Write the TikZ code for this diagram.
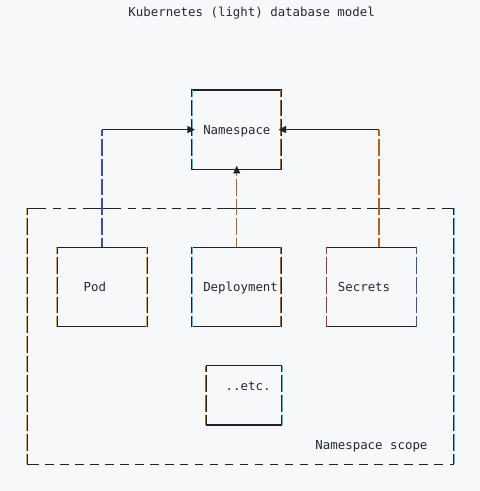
\documentclass[tikz,border=0pt]{standalone}
\usepackage{fontspec}
\setmonofont{DejaVu Sans Mono}
\usetikzlibrary{arrows.meta}
\definecolor{bg}{HTML}{F7F8FA}
\definecolor{ink}{HTML}{1F2328}
\definecolor{txt}{HTML}{24292F}
\definecolor{lb}{HTML}{5AB0EE}
\definecolor{org}{HTML}{E2A444}
\definecolor{brn}{HTML}{B0651F}
\definecolor{rdb}{HTML}{9A3428}
\definecolor{blu}{HTML}{3A4FA8}
\newcommand\kbframe[5]{%
  \draw[hl] (#1.north west) -- (#1.north east);
  \draw[hl] (#1.south west) -- (#1.south east);
  \draw[vd, #2, transform canvas={xshift=#3}] (#1.north west) -- (#1.south west);
  \draw[vd, ink] (#1.north west) -- (#1.south west);
  \draw[vd, #4, transform canvas={xshift=#5}] (#1.north east) -- (#1.south east);
  \draw[vd, ink] (#1.north east) -- (#1.south east);
}
\begin{document}
\begin{tikzpicture}[x=1pt,y=-1pt,
  box/.style={draw=none, rectangle, inner sep=0pt, minimum width=89.76pt, minimum height=78.72pt},
  hl/.style={draw=ink, line width=1.1pt, line cap=rect},
  vd/.style={line width=1.0pt, dash pattern=on 16.68pt off 3pt, dash phase=9.9pt},
  lbl/.style={font=\ttfamily\fontsize{12.4pt}{14pt}\selectfont, text=txt, inner sep=0pt, anchor=base west},
  tip/.style={-{Triangle[length=7.5pt,width=7pt]}},
]
\fill[bg] (0,0) rectangle (480,491);
\useasboundingbox (0,0) rectangle (480,491);

% nodes
\node[box] (ns) at (236.74,129.58) {};
\node[box] (pod) at (102.1,287.02) {};
\node[box] (dep) at (236.74,287.02) {};
\node[box] (sec) at (371.38,287.02) {};
\node[box, minimum width=74.8pt, minimum height=59.04pt] (etc) at (244.22,395.26) {};
\node[box, minimum width=426.36pt, minimum height=255.84pt] (scope) at (240.48,336.22) {};

% labels
\node[lbl] (title) at (128.28,16.3) {Kubernetes (light) database model};
\node[lbl] (tns) at (203.08,134.38) {Namespace};
\node[lbl] (tpod) at (83.4,291.82) {Pod};
\node[lbl] (tdep) at (203.08,291.82) {Deployment};
\node[lbl] (tsec) at (337.72,291.82) {Secrets};
\node[lbl] (tetc) at (225.52,390.22) {..etc.};
\node[lbl] (tscope) at (315.28,449.26) {Namespace scope};

% box frames
\kbframe{ns}{lb}{0.9pt}{brn}{-0.9pt}
\kbframe{pod}{org}{-0.9pt}{org}{-0.9pt}
\kbframe{dep}{lb}{0.9pt}{brn}{-0.9pt}
\kbframe{etc}{brn}{-0.9pt}{lb}{0.9pt}

% secrets box (reddish left, bluish right)
\draw[hl] (sec.north west) -- (sec.north east);
\draw[hl] (sec.south west) -- (sec.south east);
\draw[vd, rdb, line width=1.4pt] (sec.north west) -- (sec.south west);
\draw[vd, blu, line width=1.3pt] (sec.north east) -- (sec.south east);

% scope frame
\draw[vd, org, transform canvas={xshift=-0.9pt}] (scope.north west) -- (scope.south west);
\draw[vd, ink] (scope.north west) -- (scope.south west);
\draw[vd, lb, transform canvas={xshift=0.9pt}] (scope.north east) -- (scope.south east);
\draw[vd, ink] (scope.north east) -- (scope.south east);
\draw[hl] (scope.north west) -- ([xshift=18.7pt]scope.north west);
\foreach \k in {4,6,...,56,9,11,27,29,47}
  \draw[hl] ([xshift=\k*7.48pt-3.74pt]scope.north west) -- ++(7.48,0);
\draw[hl] ([xshift=-3.74pt]scope.north east) -- (scope.north east);
\draw[hl] (scope.south west) -- ([xshift=11.22pt]scope.south west);
\foreach \k in {3,5,...,55}
  \draw[hl] ([xshift=\k*7.48pt-3.74pt]scope.south west) -- ++(7.48,0);
\draw[hl] ([xshift=-3.74pt]scope.south east) -- (scope.south east);

% connectors
\draw[vd, blu, line width=1.3pt] (pod.north |- ns.west) -- (pod.north);
\draw[hl, tip] (pod.north |- ns.west) -- ([xshift=3.3pt]ns.west);

\draw[vd, brn, line width=1.3pt] (ns.south) -- (dep.north);
\fill[ink] ([yshift=3.3pt]ns.south) -- ++(-3.6,7.6) -- ++(7.2,0) -- cycle;

\coordinate (sc) at ([xshift=7.48pt]sec.north);
\draw[vd, brn, line width=1.3pt] (sc |- ns.east) -- (sc);
\draw[hl, tip] (sc |- ns.east) -- ([xshift=-3.3pt]ns.east);
\end{tikzpicture}
\end{document}
